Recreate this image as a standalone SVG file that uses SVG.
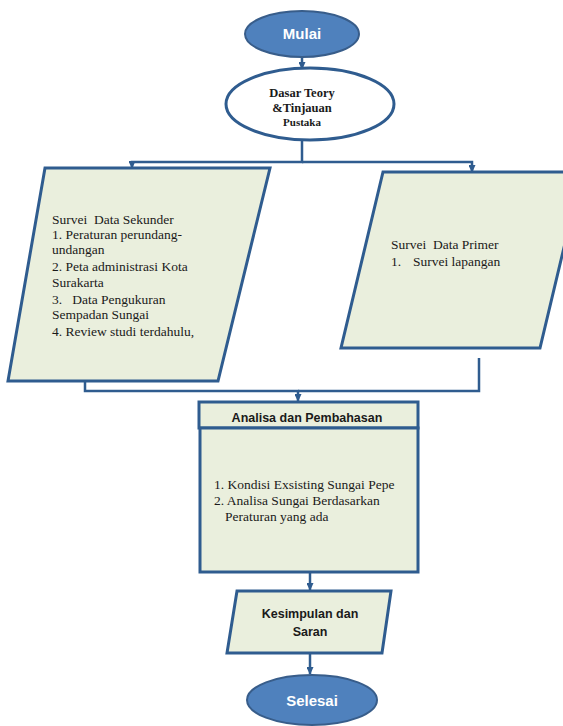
<svg xmlns="http://www.w3.org/2000/svg" width="563" height="726" viewBox="0 0 563 726">
<defs>
<marker id="arr" markerUnits="userSpaceOnUse" markerWidth="8" markerHeight="7" refX="7" refY="3.5" orient="auto">
<path d="M0,0 L8,3.5 L0,7 z" fill="#2F5C8F"/>
</marker>
</defs>
<style>
.term{fill:#4F81BD;stroke:#385D8A;stroke-width:2}
.termtxt{font-family:"Liberation Sans",Arial,sans-serif;font-weight:bold;font-size:15px;fill:#fff;text-anchor:middle}
.box{fill:#EAEFDD;stroke:#2F5C8F;stroke-width:3;stroke-linejoin:miter}
.serif{font-family:"Liberation Serif","Times New Roman",serif;font-size:13.5px;fill:#1a1a1a}
.sans{font-family:"Liberation Sans",Arial,sans-serif;font-size:12.5px;font-weight:bold;fill:#1a1a1a;text-anchor:middle}
.conn{fill:none;stroke:#2F5C8F;stroke-width:2.5}
</style>
<rect width="563" height="726" fill="#fff"/>
<g id="connectors">
<path class="conn" d="M302,57 V69" marker-end="url(#arr)"/>
<path class="conn" d="M302,141 V162 H132 V168" marker-end="url(#arr)"/>
<path class="conn" d="M302,162 H472 V172" marker-end="url(#arr)"/>
<path class="conn" d="M85,381 V391 H298 V401" marker-end="url(#arr)"/>
<path class="conn" d="M479,358 V391 H298"/>
<path class="conn" d="M310,572 V590" marker-end="url(#arr)"/>
<path class="conn" d="M310,653 V674" marker-end="url(#arr)"/>
</g>
<g id="mulai">
<ellipse class="term" cx="302" cy="34" rx="57" ry="23"/>
<text class="termtxt" x="302" y="39">Mulai</text>
</g>
<g id="dasar">
<ellipse cx="310" cy="104" rx="84" ry="36" fill="#fff" stroke="#2F5C8F" stroke-width="3"/>
<text x="302" y="97" text-anchor="middle" font-family="Liberation Serif, serif" font-size="12.5" font-weight="bold" fill="#1a1a1a">Dasar Teory</text>
<text x="302" y="112" text-anchor="middle" font-family="Liberation Serif, serif" font-size="12.5" font-weight="bold" fill="#1a1a1a">&amp;Tinjauan</text>
<text x="302" y="126" text-anchor="middle" font-family="Liberation Serif, serif" font-size="11" font-weight="bold" fill="#1a1a1a">Pustaka</text>
</g>
<g id="sekunder">
<polygon class="box" points="45,168 270,168 218,381 8,381"/>
<text class="serif" x="52" y="224" xml:space="preserve">Survei  Data Sekunder</text>
<text class="serif" x="52" y="239">1. Peraturan perundang-</text>
<text class="serif" x="52" y="254">undangan</text>
<text class="serif" x="52" y="271">2. Peta administrasi Kota</text>
<text class="serif" x="52" y="287">Surakarta</text>
<text class="serif" x="52" y="304" xml:space="preserve">3.   Data Pengukuran</text>
<text class="serif" x="52" y="319">Sempadan Sungai</text>
<text class="serif" x="52" y="336">4. Review studi terdahulu,</text>
</g>
<g id="primer">
<polygon class="box" points="383,172 582,172 540,348 341,348"/>
<text class="serif" x="391" y="249" xml:space="preserve">Survei  Data Primer</text>
<text class="serif" x="391" y="266">1.</text>
<text class="serif" x="413" y="266">Survei lapangan</text>
</g>
<g id="analisa">
<rect class="box" x="199" y="402" width="219" height="26"/>
<rect class="box" x="200" y="428" width="218" height="144"/>
<text class="sans" x="307" y="422" font-size="13">Analisa dan Pembahasan</text>
<text class="serif" x="214" y="489">1. Kondisi Exsisting Sungai Pepe</text>
<text class="serif" x="214" y="505">2. Analisa Sungai Berdasarkan</text>
<text class="serif" x="225" y="521">Peraturan yang ada</text>
</g>
<g id="kesimpulan">
<polygon class="box" points="237,591 391,591 382,653 227,653"/>
<text class="sans" x="310" y="618">Kesimpulan dan</text>
<text class="sans" x="310" y="636">Saran</text>
</g>
<g id="selesai">
<ellipse class="term" cx="312" cy="700" rx="65" ry="25"/>
<text class="termtxt" x="312" y="706">Selesai</text>
</g>
</svg>
